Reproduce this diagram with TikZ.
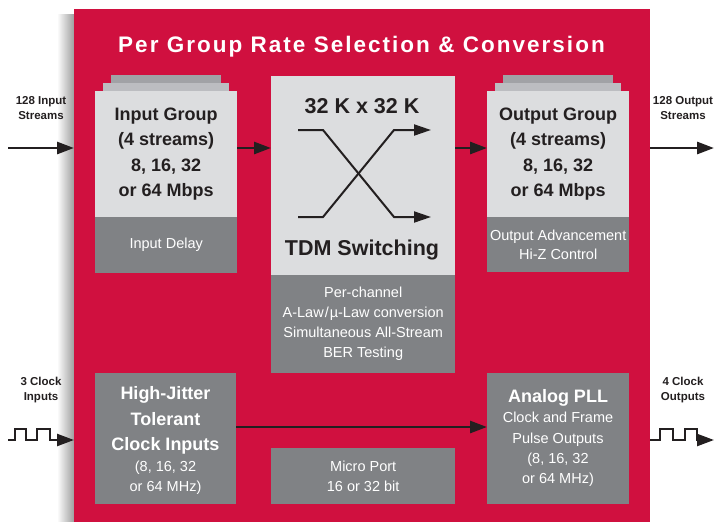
\documentclass[tikz,border=0pt]{standalone}
\usepackage{fontspec}
\setmainfont{Liberation Sans}
\usetikzlibrary{arrows.meta,positioning}

\definecolor{tdmred}{HTML}{D0103F}
\definecolor{sheet}{HTML}{DCDDDF}
\definecolor{sheetmid}{HTML}{BCBDC1}
\definecolor{sheetback}{HTML}{A1A2A6}
\definecolor{blockgray}{HTML}{808285}
\definecolor{ink}{HTML}{231F20}

\tikzset{
  litebox/.style={fill=sheet,anchor=north west,inner sep=0pt,align=center,text=ink,font=\fontsize{18}{25.5}\selectfont\bfseries},
  darkbox/.style={fill=blockgray,anchor=north west,inner sep=0pt,align=center,text=white,font=\fontsize{14.5}{20}\selectfont},
  boldtxt/.style={align=center,text=white,font=\fontsize{18}{25.5}\selectfont\bfseries},
  regtxt/.style={align=center,text=white,font=\fontsize{14.5}{20.3}\selectfont},
  bigtxt/.style={anchor=base,text=ink,font=\fontsize{21.5}{26}\selectfont\bfseries},
  sidelbl/.style={align=center,text=ink,font=\fontsize{11.5}{15}\selectfont\bfseries},
  flow/.style={-{Triangle[length=17pt,width=12pt]},line width=2.8pt,draw=ink},
  xline/.style={-{Triangle[length=17pt,width=11pt]},line width=2pt,draw=ink},
  clk/.style={-{Triangle[length=17pt,width=12pt]},line width=2.4pt,draw=ink},
}

\begin{document}
\begin{tikzpicture}[x=1pt,y=-1pt]
\useasboundingbox (0,0) rectangle (715,522);

% panel and its shadow
\shade[left color=white,right color=black!38] (57,14) rectangle (74,522);
\node[fill=tdmred,minimum width=576pt,minimum height=513pt,anchor=north west,inner sep=0pt] (panel) at (74,9) {};
\node[anchor=base,text=white,font=\fontsize{22.5}{27}\selectfont\bfseries\addfontfeature{LetterSpace=9}] (title) at (361.5,52.5) {Per Group Rate Selection \& Conversion};

% input group (stacked sheets)
\fill[sheetback] (111,75) rectangle (221,83);
\fill[sheetmid] (103,83) rectangle (229,91);
\node[litebox,minimum width=142pt,minimum height=126pt] (inG) at (95,91) {Input Group\\(4 streams)\\8, 16, 32\\or 64 Mbps};
\node[darkbox,minimum width=142pt,minimum height=56pt] (inD) at (95,217) {Input Delay};

% switch
\node[fill=sheet,anchor=north west,inner sep=0pt,minimum width=184pt,minimum height=199pt] (sw) at (271,76) {};
\node[bigtxt] (swTop) at (362,113.5) {32 K x 32 K};
\node[bigtxt] (swBot) at (362,255) {TDM Switching};
\draw[xline] (298,130) -- (323,130) -- (394,217) -- (431,217);
\draw[xline] (298,217) -- (323,217) -- (394,130) -- (431,130);
\node[darkbox,minimum width=184pt,minimum height=98pt] (feat) at (271,275) {Per-channel\\A-Law\kern1pt/\kern1pt\textmu-Law conversion\\Simultaneous All-Stream\\BER Testing};

% output group (stacked sheets)
\fill[sheetback] (503,75) rectangle (613,83);
\fill[sheetmid] (495,83) rectangle (621,91);
\node[litebox,minimum width=142pt,minimum height=126pt] (outG) at (487,91) {Output Group\\(4 streams)\\8, 16, 32\\or 64 Mbps};
\node[darkbox,minimum width=142pt,minimum height=55pt,font=\fontsize{14.5}{18.5}\selectfont] (outA) at (487,217) {Output Advancement\\Hi-Z Control};

% clock blocks
\node[darkbox,minimum width=141pt,minimum height=131pt] (hj) at (95,373) {};
\node[boldtxt] (hjT) at (165.5,420.5) {High-Jitter\\Tolerant\\Clock Inputs};
\node[regtxt] (hjF) at (165.5,478) {(8, 16, 32\\or 64 MHz)};
\node[darkbox,minimum width=142pt,minimum height=131pt] (pll) at (487,373) {};
\node[boldtxt] (pllT) at (558,398) {Analog PLL};
\node[regtxt] (pllF) at (558,449.5) {Clock and Frame\\Pulse Outputs\\(8, 16, 32\\or 64 MHz)};
\node[darkbox,minimum width=184pt,minimum height=56pt] (mp) at (271,448) {Micro Port\\16 or 32 bit};

% side labels
\node[sidelbl] (inL) at (41,108.5) {128 Input\\Streams};
\node[sidelbl] (outL) at (683,108.5) {128 Output\\Streams};
\node[sidelbl] (ckiL) at (41,390.5) {3 Clock\\Inputs};
\node[sidelbl] (ckoL) at (683,390.5) {4 Clock\\Outputs};

% data path
\coordinate (inSrc) at (8,148);
\coordinate (outEnd) at (714,148);
\draw[flow] (inSrc) -- (inSrc -| panel.west);
\draw[flow] (inG.east |- inSrc) -- (sw.west |- inSrc);
\draw[flow] (sw.east |- inSrc) -- (outG.west |- inSrc);
\draw[flow] (outEnd -| panel.east) -- (outEnd);

% clock path
\coordinate (ckRow) at (0,427);
\draw[flow] (hj.east |- ckRow) -- (pll.west |- ckRow);
\draw[clk] (8,440) -- (15,440) -- (15,429) -- (26,429) -- (26,440) -- (37,440) -- (37,429) -- (50,429) -- (50,440) -- (panel.west |- 0,440);
\draw[clk] (panel.east |- 0,440) -- (660,440) -- (660,429) -- (673,429) -- (673,440) -- (685,440) -- (685,429) -- (697,429) -- (697,440) -- (714,440);
\end{tikzpicture}
\end{document}
